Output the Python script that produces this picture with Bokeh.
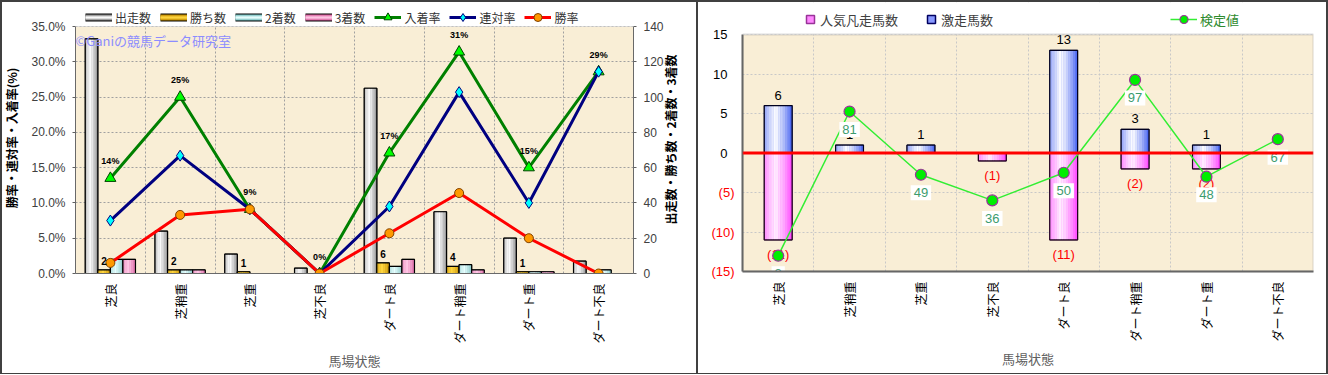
import math
import json
from bokeh.plotting import figure
from bokeh.models import (Range1d, LinearAxis, FixedTicker, PrintfTickFormatter, Legend, LegendItem,
                          Label, Span, ColumnDataSource, FactorRange, CustomJSTickFormatter, BoxAnnotation)
from bokeh.transform import dodge
from bokeh.core.properties import value
from bokeh.embed import file_html
from bokeh.resources import INLINE

# ---------------- data ----------------
cats = ["芝良", "芝稍重", "芝重", "芝不良", "ダート良", "ダート稍重", "ダート重", "ダート不良"]
runners = [133, 24, 11, 3, 105, 35, 20, 7]
wins = [2, 2, 1, 0, 6, 4, 1, 0]
seconds = [8, 2, 0, 0, 4, 5, 1, 2]
thirds = [8, 2, 0, 0, 8, 2, 1, 0]
win_rate = [1.5, 8.3, 9.1, 0.0, 5.7, 11.4, 5.0, 0.0]
rentai_rate = [7.5, 16.7, 9.1, 0.0, 9.5, 25.7, 10.0, 28.6]
place_rate = [13.5, 25.0, 9.1, 0.0, 17.1, 31.4, 15.0, 28.6]
place_labels = ["14%", "25%", "9%", "0%", "17%", "31%", "15%", "29%"]
pct_ticks = [0, 5, 10, 15, 20, 25, 30, 35]
cnt_ticks = [0, 20, 40, 60, 80, 100, 120, 140]

gekisou = [6, 1, 1, 0, 13, 3, 1, 0]
bonsou = [-11, 0, 0, -1, -11, -2, -2, 0]
kentei = [8, 81, 49, 36, 50, 97, 48, 67]
r_ticks = [-15, -10, -5, 0, 5, 10, 15]
neg_ticks = [-5, -10, -15]
neg_tick_labels = ["(5)", "(10)", "(15)"]

JP = "Noto Sans CJK JP"
NUM = "Liberation Sans"
BG = "#f9eed6"
NAN = float("nan")


def hex2rgb(h):
    h = h.lstrip("#")
    return tuple(int(h[i:i + 2], 16) for i in (0, 2, 4))


def mix(a, b, t):
    ra, rb = hex2rgb(a), hex2rgb(b)
    return "#%02x%02x%02x" % tuple(int(round(x + (y - x) * t)) for x, y in zip(ra, rb))


def cyl_colors(edge, center, n):
    cols = []
    for k in range(n):
        u = (k + 0.5) / n
        t = max(0.0, 1 - abs(u - 0.4) / 0.6)
        cols.append(mix(edge, center, t ** 0.7))
    return cols


def gradient_bar(p, src, offset, width, topcol, edge, center, n, yr="default", outline="black"):
    p.vbar(x=dodge("cat", offset, range=p.x_range), top=topcol, bottom=0, width=width, source=src,
           fill_color=mix(edge, center, 0.45), line_color=outline, line_width=1, y_range_name=yr)
    sw = width / n
    for k, c in enumerate(cyl_colors(edge, center, n)):
        p.vbar(x=dodge("cat", offset - width / 2 + sw * (k + 0.5), range=p.x_range), top=topcol, bottom=0,
               width=sw * 1.04, source=src, fill_color=c, line_color=None, y_range_name=yr)
    p.vbar(x=dodge("cat", offset, range=p.x_range), top=topcol, bottom=0, width=width, source=src,
           fill_color=None, line_color=outline, line_width=1.2, y_range_name=yr)


def bar_legend_proxy(p, edge, center):
    # renderers with no visible data, used only for a flat cylinder-like legend icon
    rs = [p.line(x=[cats[0]], y=[NAN], line_color="#000000", line_width=8)]
    for w, t in ((6, 0.0), (4, 0.5), (2, 0.95)):
        rs.append(p.line(x=[cats[0]], y=[NAN], line_color=mix(edge, center, t), line_width=w))
    return rs


def frame_styles(left=True, extra=None):
    sh = ["inset 0 2px 0 #404040", "inset -2px 0 0 #404040", "inset 0 -1px 0 #404040"]
    if left:
        sh.append("inset 2px 0 0 #404040")
    st = {"background-color": "white", "box-shadow": ", ".join(sh)}
    if extra:
        st.update(extra)
    return st


F_TOP = 2

# ---------------- left chart ----------------
L_TOP, L_BOT = 26, 273
fL = (L_BOT - F_TOP) / (L_BOT - L_TOP)

src1 = ColumnDataSource(dict(
    cat=cats, runners=runners, wins=wins, seconds=seconds, thirds=thirds,
    win_rate=win_rate, rentai=rentai_rate, place=place_rate, place_lbl=place_labels,
    win_lbl=[str(w) if w else "" for w in wins]))

p1 = figure(x_range=FactorRange(factors=cats), y_range=Range1d(0, 35 * fL), width=698, height=374,
            output_backend="svg", toolbar_location=None,
            min_border_left=73, min_border_right=65, min_border_top=F_TOP, min_border_bottom=374 - L_BOT,
            background_fill_color="white", border_fill_alpha=0, outline_line_color=None,
            styles=frame_styles(True, {"position": "absolute", "left": "0px", "top": "0px"}))
p1.extra_y_ranges = {"cnt": Range1d(0, 140 * fL)}

p1.add_layout(BoxAnnotation(bottom=0, top=35, fill_color=BG, fill_alpha=1, line_color=None, level="image"))

p1.xgrid.ticker = FixedTicker(ticks=[1, 2, 3, 4, 5, 6, 7])
p1.ygrid.ticker = FixedTicker(ticks=pct_ticks)
for g in (p1.xgrid, p1.ygrid):
    g.grid_line_color = "#a0a0a0"
    g.grid_line_dash = "2 2"
    g.grid_line_width = 1

p1.yaxis.ticker = FixedTicker(ticks=pct_ticks)
p1.yaxis.bounds = (0, 35)
p1.yaxis.formatter = PrintfTickFormatter(format="%.1f%%")
p1.yaxis.axis_label = "勝率・連対率・入着率(%)"
ax_r = LinearAxis(y_range_name="cnt", ticker=FixedTicker(ticks=cnt_ticks), bounds=(0, 140))
p1.add_layout(ax_r, "right")
for ax in (p1.yaxis[0], ax_r):
    ax.major_label_text_font = NUM
    ax.major_label_text_font_size = "12px"
    ax.major_label_text_color = "#404040"
    ax.axis_label_text_font = JP
    ax.axis_label_text_font_size = "12px"
    ax.axis_label_text_font_style = "bold"
    ax.axis_label_text_color = "#000000"
    ax.axis_line_color = "#606060"
    ax.major_tick_line_color = "#606060"
    ax.major_tick_out = 3
    ax.major_tick_in = 0
    ax.minor_tick_line_color = None
    ax.major_label_standoff = 7
    ax.axis_label_standoff = 8

# title of the right-hand axis, reading bottom-to-top like the reference
p1.add_layout(Label(x=8 + 37 / 70, y=35 * (L_BOT - 139) / (L_BOT - L_TOP), angle=math.pi / 2,
                    text="出走数・勝ち数・2着数・3着数", text_align="center", text_baseline="middle",
                    text_font=JP, text_font_size="12px", text_font_style="bold", text_color="#000000"),
              "right")

p1.xaxis.major_label_orientation = math.pi / 2
p1.xaxis.major_label_text_font = JP
p1.xaxis.major_label_text_font_size = "12px"
p1.xaxis.major_label_text_color = "#000000"
p1.xaxis.major_tick_line_color = None
p1.xaxis.major_tick_out = 0
p1.xaxis.major_tick_in = 0
p1.xaxis.axis_line_color = "#606060"
p1.xaxis.major_label_standoff = 10
p1.xaxis.axis_label = "馬場状態"
p1.xaxis.axis_label_text_font = JP
p1.xaxis.axis_label_text_font_size = "13px"
p1.xaxis.axis_label_text_font_style = "normal"
p1.xaxis.axis_label_text_color = "#606060"
p1.xaxis.axis_label_standoff = 4

bw = 0.18
gradient_bar(p1, src1, -0.27, bw, "runners", "#808080", "#ffffff", 8, "cnt")
gradient_bar(p1, src1, -0.09, bw, "wins", "#c08a00", "#ffd640", 6, "cnt")
gradient_bar(p1, src1, 0.09, bw, "seconds", "#78c0c0", "#eaffff", 6, "cnt")
gradient_bar(p1, src1, 0.27, bw, "thirds", "#d8609e", "#ffc8e6", 6, "cnt")

l_place = p1.line("cat", "place", source=src1, line_color="#008000", line_width=3)
s_place = p1.scatter("cat", "place", source=src1, marker="triangle", size=11,
                     fill_color="#00ff00", line_color="#004000", line_width=1)
l_rent = p1.line("cat", "rentai", source=src1, line_color="#000080", line_width=3)
s_rent = p1.scatter("cat", "rentai", source=src1, marker="diamond", size=11,
                    fill_color="#00ffff", line_color="#000080", line_width=1)
l_win = p1.line("cat", "win_rate", source=src1, line_color="#ff0000", line_width=3)
s_win = p1.scatter("cat", "win_rate", source=src1, marker="circle", size=9,
                   fill_color="#ff9900", line_color="#804000", line_width=1)

p1.text(x="cat", y="place", text="place_lbl", source=src1, text_align="center", text_baseline="middle",
        y_offset=-17, text_font=value(NUM), text_font_size="9px", text_font_style="bold", text_color="#000000")
p1.text(x=dodge("cat", -0.09, range=p1.x_range), y="wins", text="win_lbl", source=src1, y_range_name="cnt",
        text_align="center", text_baseline="bottom", y_offset=-5, text_font=value(NUM),
        text_font_size="10px", text_font_style="bold", text_color="#000000")

p1.add_layout(Label(x=0, y=35, x_offset=0, y_offset=-14, text="©Ganiの競馬データ研究室",
                    text_baseline="middle", text_color="#8c8cff", text_font=JP, text_font_size="13px"))

# white legend area above the plot box, then the plot box outline
p1.add_layout(BoxAnnotation(bottom=35, fill_color="white", fill_alpha=1, line_color=None))
p1.add_layout(BoxAnnotation(bottom=0, top=35, fill_alpha=0, line_color="#a0a0a0", line_width=1))

legA = Legend(items=[LegendItem(label="出走数", renderers=bar_legend_proxy(p1, "#808080", "#ffffff")),
                     LegendItem(label="勝ち数", renderers=bar_legend_proxy(p1, "#c08a00", "#ffd640")),
                     LegendItem(label="2着数", renderers=bar_legend_proxy(p1, "#78c0c0", "#eaffff")),
                     LegendItem(label="3着数", renderers=bar_legend_proxy(p1, "#d8609e", "#ffc8e6")),
                     LegendItem(label="入着率", renderers=[l_place, s_place]),
                     LegendItem(label="連対率", renderers=[l_rent, s_rent]),
                     LegendItem(label="勝率", renderers=[l_win, s_win])],
              orientation="horizontal", location=(10, L_BOT - 27), glyph_width=27, glyph_height=20,
              label_height=12, label_standoff=3, spacing=9, padding=0, margin=0,
              border_line_color=None, background_fill_alpha=0,
              label_text_font=JP, label_text_font_size="12px", label_text_color="#333333")
p1.add_layout(legA)

# ---------------- right chart ----------------
R_TOP, R_BOT = 34, 271
yr_hi = 15 + 30 * (R_TOP - F_TOP) / (R_BOT - R_TOP)

src2 = ColumnDataSource(dict(
    cat=cats, geki=gekisou, bon=bonsou, kentei=kentei,
    geki_lbl=[str(v) if v > 0 else "" for v in gekisou],
    bon_lbl=["(%d)" % -v if v < 0 else "" for v in bonsou],
    kentei_lbl=[str(v) for v in kentei]))

p2 = figure(x_range=FactorRange(factors=cats), y_range=Range1d(-15, yr_hi), width=630, height=374,
            output_backend="svg", toolbar_location=None,
            min_border_left=44, min_border_right=15, min_border_top=F_TOP, min_border_bottom=374 - R_BOT,
            background_fill_color="white", border_fill_alpha=0, outline_line_color=None,
            styles=frame_styles(False, {"position": "absolute", "left": "698px", "top": "0px"}))
p2.extra_y_ranges = {"kentei": Range1d(0, 120 * (yr_hi + 15) / 30)}

p2.add_layout(BoxAnnotation(bottom=-15, top=15, fill_color=BG, fill_alpha=1, line_color=None, level="image"))

p2.xgrid.ticker = FixedTicker(ticks=[1, 2, 3, 4, 5, 6, 7])
p2.ygrid.ticker = FixedTicker(ticks=r_ticks)
for g in (p2.xgrid, p2.ygrid):
    g.grid_line_color = "#c8c8c8"
    g.grid_line_dash = "2 2"

p2.yaxis.ticker = FixedTicker(ticks=r_ticks)
p2.yaxis.bounds = (-15, 15)
p2.yaxis.formatter = CustomJSTickFormatter(code="return tick < 0 ? '' : tick.toString();")
p2.yaxis.major_label_text_font = NUM
p2.yaxis.major_label_text_font_size = "13px"
p2.yaxis.major_label_text_color = "#000000"
p2.yaxis.major_tick_out = 0
p2.yaxis.major_tick_in = 0
p2.yaxis.minor_tick_line_color = None
p2.yaxis.major_label_standoff = 15
p2.yaxis.axis_line_color = "#606060"
p2.yaxis.axis_line_width = 2

# second left axis (outside the first one) that only carries the red negative labels;
# a negative standoff pulls its labels back next to the plot box
neg_map = json.dumps({str(t): s for t, s in zip(neg_ticks, neg_tick_labels)})
neg_ax = LinearAxis(ticker=FixedTicker(ticks=neg_ticks), bounds=(-15, 15),
                    formatter=CustomJSTickFormatter(code="const m = %s; return m[String(tick)] || '';" % neg_map),
                    axis_line_color=None, major_tick_line_color=None, minor_tick_line_color=None,
                    major_tick_out=0, major_tick_in=0, major_label_standoff=-24,
                    major_label_text_color="#ff0000", major_label_text_font=NUM,
                    major_label_text_font_size="13px")
p2.add_layout(neg_ax, "left")

p2.xaxis.major_label_orientation = math.pi / 2
p2.xaxis.major_label_text_font = JP
p2.xaxis.major_label_text_font_size = "12px"
p2.xaxis.major_label_text_color = "#000000"
p2.xaxis.major_tick_line_color = None
p2.xaxis.major_tick_out = 0
p2.xaxis.major_tick_in = 0
p2.xaxis.axis_line_color = "#606060"
p2.xaxis.axis_line_width = 2
p2.xaxis.major_label_standoff = 10
p2.xaxis.axis_label = "馬場状態"
p2.xaxis.axis_label_text_font = JP
p2.xaxis.axis_label_text_font_size = "13px"
p2.xaxis.axis_label_text_font_style = "normal"
p2.xaxis.axis_label_text_color = "#606060"
p2.xaxis.axis_label_standoff = 4

gradient_bar(p2, src2, 0.0, 0.39, "geki", "#3050f0", "#ffffff", 12, outline="#000020")
gradient_bar(p2, src2, 0.0, 0.39, "bon", "#ff30ff", "#fff0ff", 12, outline="#200020")

p2.add_layout(Span(location=0, dimension="width", line_color="#ff0000", line_width=3))

p2.text(x="cat", y="geki", text="geki_lbl", source=src2, text_align="center", text_baseline="bottom",
        y_offset=-6, text_font=value(NUM), text_font_size="13px", text_color="#000000")
p2.text(x="cat", y="bon", text="bon_lbl", source=src2, text_align="center", text_baseline="top",
        y_offset=7, text_font=value(NUM), text_font_size="13px", text_color="#ff0000")

l_k = p2.line("cat", "kentei", source=src2, y_range_name="kentei", line_color="#33ee33", line_width=1.5)
s_k = p2.scatter("cat", "kentei", source=src2, y_range_name="kentei", marker="circle", size=11,
                 fill_color="#00ee00", line_color="#993399", line_width=1.2)
p2.text(x="cat", y="kentei", text="kentei_lbl", source=src2, y_range_name="kentei",
        text_align="center", text_baseline="middle", y_offset=18, text_font=value(NUM),
        text_font_size="13px", text_color="#3c9c6e", background_fill_color="#ffffff", padding=3)

p2.add_layout(BoxAnnotation(bottom=15, fill_color="white", fill_alpha=1, line_color=None))
p2.add_layout(BoxAnnotation(bottom=-15, top=15, fill_alpha=0, line_color="#909090", line_width=2))

sq_bon = p2.scatter(x=[cats[0]], y=[NAN], marker="square", size=8,
                    fill_color="#ff88ff", line_color="#993399", line_width=1.5)
sq_geki = p2.scatter(x=[cats[0]], y=[NAN], marker="square", size=8,
                     fill_color="#8899ff", line_color="#000060", line_width=1.5)

legC = Legend(items=[LegendItem(label="人気凡走馬数", renderers=[sq_bon]),
                     LegendItem(label="激走馬数", renderers=[sq_geki])],
              orientation="horizontal", location=(58, R_BOT - 29), glyph_width=20, glyph_height=20,
              label_height=12, label_standoff=0, spacing=23, padding=0, margin=0,
              border_line_color=None, background_fill_alpha=0,
              label_text_font=JP, label_text_font_size="13px", label_text_color="#404040")
legD = Legend(items=[LegendItem(label="検定値", renderers=[l_k, s_k])],
              orientation="horizontal", location=(428, R_BOT - 29), glyph_width=27, glyph_height=20,
              label_height=12, label_standoff=3, padding=0, margin=0,
              border_line_color=None, background_fill_alpha=0,
              label_text_font=JP, label_text_font_size="13px", label_text_color="#2e8b2e")
p2.add_layout(legC)
p2.add_layout(legD)

open("out.html", "w").write(file_html([p1, p2], INLINE))
